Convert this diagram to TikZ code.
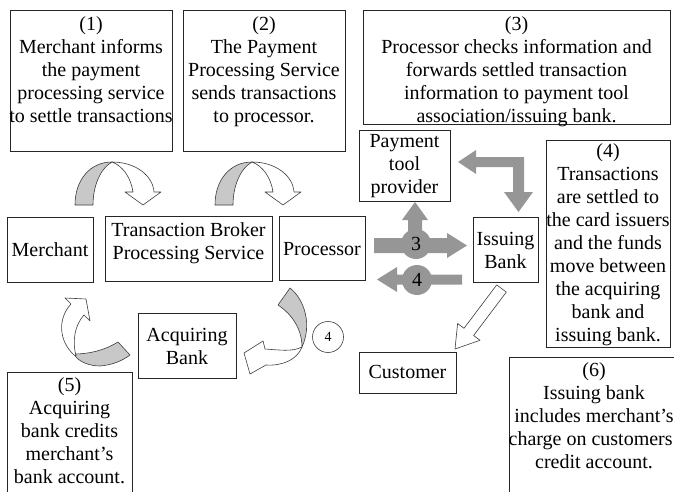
\documentclass[tikz,border=0pt]{standalone}
\usepackage{fontspec}
\setmainfont{Liberation Serif}
\definecolor{blk}{RGB}{150,150,150}
\definecolor{band}{RGB}{200,200,200}
\definecolor{edgec}{RGB}{60,60,60}
\begin{document}
\begin{tikzpicture}[x=1pt,y=-1pt,
  frame/.style={draw=black!85, line width=0.8pt, fill=white, inner sep=0pt, outer sep=0pt},
  txt/.style={inner sep=0pt, outer sep=0pt, align=center, font=\fontsize{20}{23}\selectfont},
  garrow/.style={fill=blk},
  gcirc/.style={circle, fill=blk, minimum size=30pt, inner sep=0pt, font=\fontsize{20}{23}\selectfont},
  cband/.style={fill=band, draw=edgec, line width=0.6pt, line join=round},
  cfront/.style={fill=white, draw=edgec, line width=0.6pt, line join=round},
]
\useasboundingbox (0,0) rectangle (674,492);
\clip (0,0) rectangle (674,492);

% ---- boxes ----
\node[frame, minimum width=162pt, minimum height=141pt] (b1) at (91,80.5) {};
\node[frame, minimum width=162pt, minimum height=141pt] (b2) at (264,80.5) {};
\node[frame, minimum width=307pt, minimum height=114pt] (b3) at (516.5,67) {};
\node[frame, minimum width=91pt, minimum height=71pt] (ptp) at (404.5,165.5) {};
\node[frame, minimum width=124pt, minimum height=207pt] (b4) at (608,243.5) {};
\node[frame, minimum width=65pt, minimum height=65pt] (ib) at (505.5,249.5) {};
\node[frame, minimum width=86pt, minimum height=64pt] (proc) at (322,248) {};
\node[frame, minimum width=86pt, minimum height=65pt] (merch) at (50,249.5) {};
\node[frame, minimum width=167pt, minimum height=65pt] (tbps) at (188.5,248.5) {};
\node[frame, minimum width=98pt, minimum height=65pt] (acq) at (187,345.5) {};
\node[frame, minimum width=125pt, minimum height=128pt] (b5) at (69.5,436) {};
\node[frame, minimum width=97pt, minimum height=41pt] (cust) at (407.5,372.5) {};
\node[frame, minimum width=170pt, minimum height=143pt] (b6) at (594,428.5) {};

% ---- texts ----
\node[txt, anchor=north] (t1) at (91,16.5) {(1)\\Merchant informs\\the payment\\processing service\\to settle transactions};
\node[txt, anchor=north] (t2) at (264,16.5) {(2)\\The Payment\\Processing Service\\sends transactions\\to processor.};
\node[txt, anchor=north] (t3) at (516.5,17) {(3)\\Processor checks information and\\forwards settled transaction\\information to payment tool\\association/issuing bank.};
\node[txt, anchor=north] (t4) at (608,144) {(4)\\Transactions\\are settled to\\the card issuers\\and the funds\\move between\\the acquiring\\bank and\\issuing bank.};
\node[txt, anchor=north] (t5) at (69.5,378) {(5)\\Acquiring\\bank credits\\merchant’s\\bank account.};
\node[txt, anchor=north] (t6) at (594,363) {(6)\\Issuing bank\\includes merchant’s\\charge on customers’\\credit account.};
\node[txt, anchor=base] (tm) at (50,256) {Merchant};
\node[txt, anchor=north] (tt) at (188.5,223) {Transaction Broker\\Processing Service};
\node[txt, anchor=base] (tp) at (322,255) {Processor};
\node[txt, anchor=north] (tptp) at (404.5,134) {Payment\\tool\\provider};
\node[txt, anchor=north] (tib) at (505.5,232) {Issuing\\Bank};
\node[txt, anchor=north] (tacq) at (187,328) {Acquiring\\Bank};
\node[txt, anchor=base] (tc) at (407.5,378) {Customer};

% ---- gray block arrows ----
\fill[garrow] (408,244) -- (408,220) -- (402,220) -- (415,202) -- (428,220) -- (422,220) -- (422,244) -- cycle;
\fill[garrow] (374,238) -- (447,238) -- (447,233) -- (467,245.5) -- (447,258) -- (447,253) -- (374,253) -- cycle;
\fill[garrow] (462,274.5) -- (397,274.5) -- (397,267) -- (377,279.5) -- (397,292) -- (397,284.5) -- (462,284.5) -- cycle;
\node[gcirc] (c3) at (416,244) {3};
\node[gcirc] (c4) at (417,280) {4};
\fill[garrow] (476,157) -- (524,157) -- (524,192) -- (533,192) -- (518.5,212) -- (504,192) -- (513,192) -- (513,167) -- (476,167) -- (476,174) -- (458,162) -- (476,150) -- cycle;

% ---- hollow arrow to customer ----
\draw[cfront] (506.3,292.1) -- (473.6,335.5) -- (480.0,340.3) -- (455,349) -- (457.6,323.5) -- (464.0,328.3) -- (496.7,284.9) -- cycle;

% ---- curved arrows (1) and (2) ----
\foreach \dx in {0,140} {
  \begin{scope}[xshift=\dx]
    \draw[cband] (75,205) .. controls (75,180) and (90,162) .. (112,162) .. controls (101,168) and (93,185) .. (93,205) -- cycle;
    \draw[cfront] (112,162) .. controls (136,162) and (153,176) .. (154,192) -- (161,192) -- (143,205) -- (125,192) -- (133,192) .. controls (131,178) and (123,166) .. (112,162) -- cycle;
  \end{scope}
}

% ---- curved arrow (4) processor -> acquiring bank ----
\draw[cband] (278,305) -- (290,288) .. controls (305,300) and (312,325) .. (302,347) .. controls (302,330) and (293,315) .. (278,305) -- cycle;
\draw[cfront] (302,347) .. controls (292,352) and (280,350) .. (265,349) -- (263,341) -- (244,353) -- (250,374) -- (266,365) .. controls (282,366) and (297,360) .. (302,347) -- cycle;
\node[circle, draw=edgec, line width=0.6pt, minimum size=31pt, inner sep=0pt, font=\fontsize{14}{16}\selectfont] (c4b) at (328,337) {4};

% ---- curved arrow (5) acquiring bank -> merchant ----
\draw[cband] (118,342) .. controls (105,350) and (90,354) .. (74,354) .. controls (78,362) and (90,366) .. (100,366) .. controls (112,365) and (122,361) .. (130,355) -- cycle;
\draw[cfront] (74,355) .. controls (58,340) and (58,318) .. (71,304) -- (65,298) -- (86,299) -- (90,321) -- (84,315) .. controls (75,325) and (72,340) .. (76,356) -- cycle;
\end{tikzpicture}
\end{document}
